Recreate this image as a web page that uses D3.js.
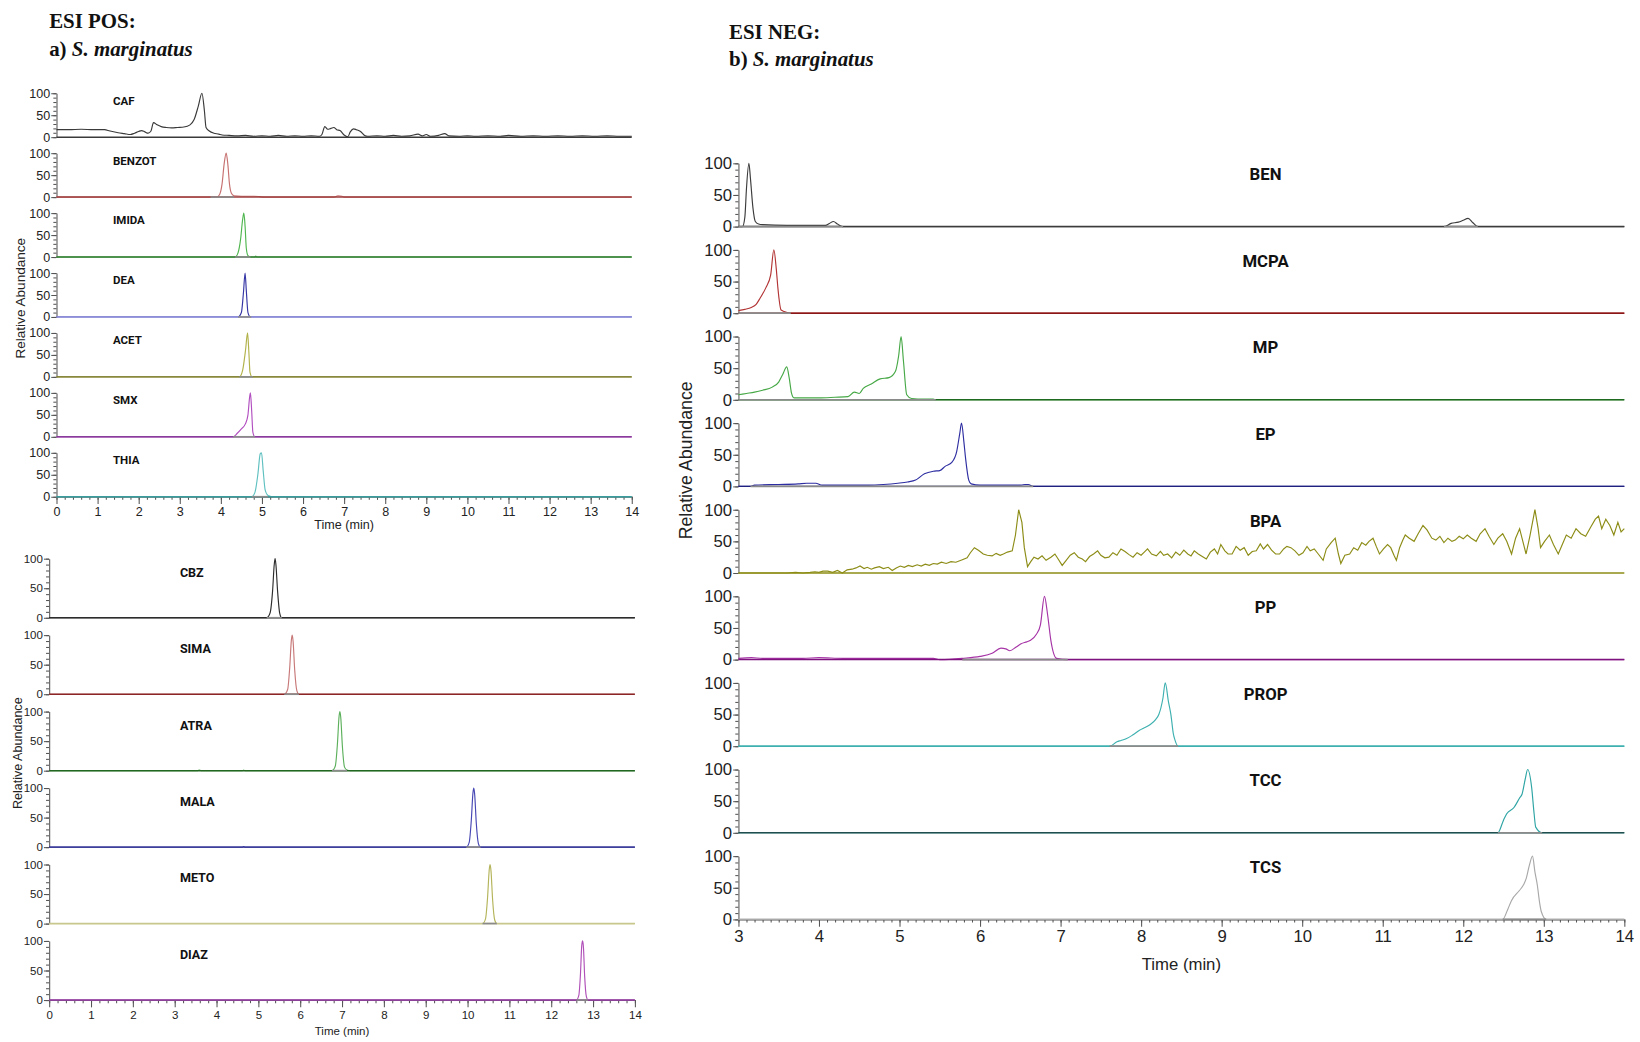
<!DOCTYPE html>
<html>
<head>
<meta charset="utf-8">
<script src="https://cdn.jsdelivr.net/npm/d3@7"></script>
<style>
  body { margin: 0; background: #fff; }
  svg { display: block; }
  .tk text { font-family: "Liberation Sans", Arial, sans-serif; fill: #222; }
  .tk line, .tk path { stroke: #555; }
</style>
</head>
<body>
<svg id="chart" width="1640" height="1042" viewBox="0 0 1568 996"></svg>
<script>
// ---- ESI POS, upper block (a) ----
const posTopNames = ["CAF", "BENZOT", "IMIDA", "DEA", "ACET", "SMX", "THIA"];
const caf = [[0,17],[0.3,17],[0.6,18],[0.9,17],[1.17,17],[1.3,14],[1.5,10],[1.65,8],[1.8,6],[1.9,9],[2.0,13],[2.07,15],[2.15,12],[2.23,9],[2.3,14],[2.36,33],[2.45,28],[2.55,24],[2.67,22],[2.8,21],[2.95,22],[3.1,23],[3.25,28],[3.35,40],[3.45,70],[3.54,100],[3.6,60],[3.64,22],[3.72,14],[3.83,9],[3.95,7],[4.03,5],[4.2,4],[4.4,3],[4.6,4],[4.8,2],[5.0,3],[5.2,2],[5.4,4],[5.6,2],[5.8,3],[6.0,2],[6.2,3],[6.4,2],[6.46,6],[6.53,24],[6.6,18],[6.68,20],[6.75,22],[6.82,17],[6.9,15],[7.0,5],[7.09,1],[7.15,12],[7.23,19],[7.3,17],[7.4,13],[7.5,4],[7.57,2],[7.8,3],[8.0,2],[8.2,4],[8.4,2],[8.6,3],[8.8,7],[8.9,3],[9.0,6],[9.1,2],[9.3,4],[9.45,8],[9.55,3],[9.8,2],[10.0,3],[10.2,2],[10.5,3],[10.8,2],[11.0,4],[11.3,2],[11.6,3],[11.9,2],[12.2,3],[12.5,2],[12.8,3],[13.1,2],[13.4,3],[13.7,2],[14,2]];
const benzot = [[0,0],[3.9,0],[3.97,6],[4.03,30],[4.08,75],[4.13,100],[4.17,75],[4.21,30],[4.26,8],[4.32,3],[4.5,2],[4.8,2],[4.95,1],[5.05,0],[6.75,0],[6.85,3],[6.95,2],[7.0,0],[14,0]];
const imida = [[0,0],[4.35,0],[4.42,10],[4.48,40],[4.53,85],[4.56,100],[4.59,70],[4.62,20],[4.66,3],[4.72,0],[4.82,0],[4.85,2],[4.88,0],[14,0]];
const dea = [[0,0],[4.42,0],[4.5,10],[4.55,55],[4.59,100],[4.62,60],[4.66,10],[4.72,0],[14,0]];
const acet = [[0,0],[4.45,0],[4.53,15],[4.6,60],[4.65,100],[4.68,60],[4.71,10],[4.76,0],[14,0]];
const smx = [[0,0],[4.3,0],[4.4,8],[4.5,18],[4.6,30],[4.66,50],[4.7,90],[4.72,100],[4.75,60],[4.78,10],[4.83,0],[14,0]];
const thia = [[0,0],[4.75,0],[4.83,10],[4.9,50],[4.96,98],[4.99,100],[5.03,60],[5.08,15],[5.15,3],[5.3,0],[14,0]];
const posTopWindows = [[], [[3.75,4.32]], [[4.35,4.72]], [[4.42,4.74]], [[4.45,4.78]], [[4.3,4.83]], [[4.75,5.15]]];
const posTopColors = ["#3a3a3a", "#c77070", "#4fb64f", "#3535a5", "#b2b24a", "#b24fc0", "#5fc0c0"];
const posTopBase = ["#3a3a3a", "#9c3c3c", "#2f7a2f", "#9a9ae0", "#74742c", "#8a3c9c", "#3a9c9c"];

// ---- ESI POS, lower block ----
const posBotNames = ["CBZ", "SIMA", "ATRA", "MALA", "METO", "DIAZ"];
const cbz = [[0,0],[5.2,0],[5.28,8],[5.34,45],[5.38,90],[5.4,100],[5.42,90],[5.46,45],[5.51,8],[5.56,0],[14,0]];
const sima = [[0,0],[5.62,0],[5.7,8],[5.75,45],[5.79,92],[5.81,100],[5.83,90],[5.87,40],[5.92,6],[5.97,0],[14,0]];
const atra = [[0,0],[3.55,0],[3.59,1],[3.63,0],[4.62,0],[4.65,1],[4.68,0],[6.76,0],[6.84,8],[6.89,45],[6.93,92],[6.95,100],[6.97,90],[7.01,40],[7.06,6],[7.12,1],[7.2,0],[14,0]];
const mala = [[0,0],[4.62,0],[4.65,1],[4.68,0],[9.97,0],[10.04,8],[10.09,45],[10.13,92],[10.15,100],[10.17,90],[10.21,40],[10.26,6],[10.31,0],[14,0]];
const meto = [[0,0],[10.36,0],[10.43,8],[10.48,45],[10.52,92],[10.54,100],[10.56,90],[10.6,40],[10.65,6],[10.7,0],[14,0]];
const diaz = [[0,0],[12.6,0],[12.66,8],[12.7,45],[12.73,92],[12.75,100],[12.77,90],[12.8,40],[12.84,6],[12.88,0],[14,0]];
const posBotWindows = [[[5.2,5.56]], [[5.62,5.97]], [[6.76,7.12]], [[9.97,10.31]], [[10.36,10.7]], [[12.6,12.88]]];
const posBotColors = ["#2c2c2c", "#c87878", "#5cb05c", "#4646b4", "#b4b45a", "#b050b8"];
const posBotBase = ["#2c2c2c", "#8c2626", "#226622", "#2c2c8c", "#c8c88e", "#8e3c9c"];

// ---- ESI NEG block (b) ----
const negNames = ["BEN", "MCPA", "MP", "EP", "BPA", "PP", "PROP", "TCC", "TCS"];
const ben = [[3.0,0],[3.05,0],[3.08,15],[3.1,60],[3.13,100],[3.15,75],[3.18,30],[3.21,8],[3.25,4],[3.3,3],[3.6,2],[3.9,2],[4.08,2],[4.13,5],[4.18,8],[4.23,4],[4.29,0],[11.76,0],[11.85,5],[11.94,7],[12.0,10],[12.06,13],[12.12,6],[12.18,0],[14,0]];
const mcpa = [[3.0,4],[3.08,6],[3.16,9],[3.22,14],[3.27,24],[3.34,40],[3.4,60],[3.44,100],[3.47,70],[3.49,40],[3.53,5],[3.61,1],[3.65,0],[14,0]];
const mp = [[3.0,8],[3.1,10],[3.2,12],[3.3,15],[3.42,20],[3.5,28],[3.55,40],[3.6,52],[3.63,35],[3.66,10],[3.69,3],[3.8,3],[4.0,3],[4.2,4],[4.36,5],[4.44,12],[4.5,10],[4.55,18],[4.65,25],[4.76,33],[4.87,35],[4.95,45],[4.99,70],[5.02,100],[5.05,60],[5.09,8],[5.15,2],[5.3,1],[5.42,1],[5.45,0],[14,0]];
const ep = [[3.0,0],[3.15,0],[3.2,2],[3.5,3],[3.74,4],[3.85,5],[3.96,5],[4.04,2],[4.3,2],[4.62,2],[4.8,3],[4.98,5],[5.1,7],[5.2,10],[5.31,20],[5.42,24],[5.5,25],[5.57,32],[5.65,38],[5.71,55],[5.75,85],[5.77,100],[5.8,70],[5.82,45],[5.86,10],[5.89,4],[6.0,2],[6.3,2],[6.51,2],[6.56,3],[6.6,3],[6.66,0],[14,0]];
const bpa = [[3.0,0],[3.3,0],[3.6,0],[3.71,1],[3.8,0],[3.89,1],[3.95,2],[4.0,1],[4.05,3],[4.11,3],[4.17,1],[4.23,4],[4.29,0],[4.35,5],[4.41,6],[4.46,8],[4.51,11],[4.56,7],[4.6,9],[4.65,6],[4.69,8],[4.75,10],[4.8,7],[4.86,9],[4.91,4],[4.96,8],[5.01,11],[5.06,9],[5.11,12],[5.16,10],[5.22,13],[5.27,11],[5.32,14],[5.37,12],[5.42,15],[5.47,14],[5.52,17],[5.58,15],[5.64,18],[5.7,17],[5.78,21],[5.84,24],[5.88,32],[5.93,40],[5.98,36],[6.04,30],[6.09,28],[6.15,27],[6.2,31],[6.25,28],[6.29,30],[6.34,33],[6.4,35],[6.44,60],[6.48,100],[6.52,80],[6.55,40],[6.59,10],[6.63,18],[6.67,25],[6.72,22],[6.77,27],[6.82,20],[6.88,25],[6.93,30],[6.97,22],[7.02,12],[7.07,20],[7.12,28],[7.17,32],[7.22,25],[7.27,22],[7.31,18],[7.36,26],[7.41,30],[7.46,35],[7.5,28],[7.55,24],[7.6,25],[7.65,32],[7.7,28],[7.75,38],[7.8,34],[7.85,29],[7.9,25],[7.95,32],[8.0,28],[8.04,33],[8.08,38],[8.13,30],[8.19,27],[8.24,34],[8.28,28],[8.33,30],[8.38,24],[8.43,33],[8.48,28],[8.53,36],[8.58,30],[8.62,27],[8.66,35],[8.71,30],[8.76,26],[8.81,22],[8.86,33],[8.91,38],[8.95,30],[8.99,45],[9.04,35],[9.08,30],[9.13,30],[9.18,42],[9.23,36],[9.28,40],[9.33,28],[9.38,34],[9.43,35],[9.48,46],[9.52,38],[9.57,45],[9.62,36],[9.67,30],[9.72,30],[9.77,38],[9.81,42],[9.86,40],[9.91,35],[9.96,28],[10.01,32],[10.06,42],[10.1,35],[10.15,38],[10.2,30],[10.26,20],[10.3,38],[10.36,48],[10.41,55],[10.45,30],[10.48,15],[10.53,28],[10.59,30],[10.64,40],[10.69,36],[10.74,48],[10.79,44],[10.83,50],[10.88,55],[10.92,42],[10.96,30],[11.01,38],[11.06,45],[11.1,40],[11.14,28],[11.17,20],[11.21,40],[11.25,52],[11.28,60],[11.33,55],[11.39,50],[11.44,62],[11.5,75],[11.55,68],[11.61,55],[11.66,52],[11.71,58],[11.76,48],[11.81,55],[11.86,50],[11.9,52],[11.95,58],[12.0,54],[12.05,60],[12.1,55],[12.16,50],[12.21,62],[12.27,70],[12.32,58],[12.38,45],[12.43,55],[12.49,62],[12.54,50],[12.6,30],[12.65,55],[12.7,70],[12.74,50],[12.78,30],[12.83,60],[12.89,100],[12.93,70],[12.96,40],[13.01,50],[13.07,60],[13.12,45],[13.18,30],[13.23,45],[13.28,60],[13.34,55],[13.4,70],[13.46,62],[13.52,58],[13.58,72],[13.64,85],[13.68,90],[13.72,70],[13.77,85],[13.82,75],[13.87,60],[13.92,80],[13.96,65],[14,70]];
const pp = [[3.0,2],[3.16,3],[3.3,2],[3.5,2],[3.8,2],[4.0,3],[4.3,2],[4.5,2],[4.8,2],[5.1,2],[5.42,2],[5.5,0],[5.78,2],[6.0,5],[6.15,10],[6.26,18],[6.32,17],[6.37,14],[6.45,20],[6.51,25],[6.58,28],[6.62,30],[6.7,40],[6.75,55],[6.8,100],[6.84,70],[6.88,30],[6.95,2],[7.09,0],[14,0]];
const prop = [[3.0,0],[7.61,0],[7.7,7],[7.75,9],[7.82,12],[7.9,18],[7.98,25],[8.04,29],[8.11,34],[8.18,42],[8.22,50],[8.27,75],[8.3,100],[8.34,70],[8.37,50],[8.4,20],[8.42,10],[8.46,0],[14,0]];
const tcc = [[3.0,0],[12.43,0],[12.5,20],[12.54,30],[12.63,40],[12.7,55],[12.73,61],[12.77,85],[12.8,100],[12.85,71],[12.88,30],[12.9,9],[12.98,0],[14,0]];
const tcs = [[3.0,0],[12.49,0],[12.55,15],[12.6,30],[12.7,46],[12.75,55],[12.78,64],[12.82,85],[12.86,100],[12.89,75],[12.92,54],[12.95,25],[12.97,12],[13.03,0],[14,0]];
const negWindows = [[[3.0,4.3],[11.76,12.18]], [[3.0,3.65]], [[3.0,5.45]], [[3.15,6.66]], [], [[5.78,7.09]], [[7.61,8.46]], [[12.43,12.98]], [[12.49,13.03]]];
const negColors = ["#3c3c3c", "#b23434", "#46a846", "#2e2ea2", "#8c8c16", "#a634a6", "#3eb0b0", "#2ea4a4", "#a8a8a8"];
const negBase = ["#3c3c3c", "#8a1616", "#1e6a1e", "#20207e", "#8c8c16", "#7e127e", "#3eb0b0", "#204e4e", "#a8a8a8"];

// traces drawn point to point (noisy scans)
const jagged = ["BPA"];

const svg = d3.select("#chart");

const groups = [
  { names: posTopNames, traces: [caf, benzot, imida, dea, acet, smx, thia], windows: posTopWindows,
    colors: posTopColors, base: posTopBase, domain: [0, 14], x0: 54, x1: 604, top: 89, step: 57.3, h: 42,
    minor: 0.2, yfs: 12, xfs: 12, lfs: 11, labelX: 108, labelAnchor: "start", labelDy: 8,
    yTitle: [20, 285], xTitleY: 506 },
  { names: posBotNames, traces: [cbz, sima, atra, mala, meto, diaz], windows: posBotWindows,
    colors: posBotColors, base: posBotBase, domain: [0, 14], x0: 47, x1: 607, top: 534, step: 73.1, h: 56.5,
    minor: 0.2, yfs: 11, xfs: 11, lfs: 12, labelX: 172, labelAnchor: "start", labelDy: 14,
    yTitle: [18, 720], xTitleY: 989 },
  { names: negNames, traces: [ben, mcpa, mp, ep, bpa, pp, prop, tcc, tcs], windows: negWindows,
    colors: negColors, base: negBase, domain: [3, 14], x0: 706, x1: 1553, top: 156, step: 82.8, h: 60.5,
    minor: 0.1, yfs: 16, xfs: 16, lfs: 16, labelX: 1210, labelAnchor: "middle", labelDy: 12,
    yTitle: [657, 440], xTitleY: 927 }
];

groups.forEach(g => {
  const x = d3.scaleLinear().domain(g.domain).range([g.x0, g.x1]);
  const n = g.names.length;
  g.names.forEach((name, i) => {
    const top = g.top + i * g.step;
    const y = d3.scaleLinear().domain([0, 100]).range([top + g.h, top]);
    const p = svg.append("g");

    // y axis: minor then major
    p.append("g").attr("class", "tk").attr("transform", `translate(${g.x0},0)`)
      .call(d3.axisLeft(y).tickValues(d3.range(0, 101, 10)).tickSize(3).tickSizeOuter(0).tickFormat(""));
    p.append("g").attr("class", "tk").attr("transform", `translate(${g.x0},0)`)
      .call(d3.axisLeft(y).tickValues([0, 50, 100]).tickSize(5).tickPadding(1))
      .call(a => a.select(".domain").remove())
      .selectAll("text").style("font-size", g.yfs + "px");

    // x axis only on the last panel
    if (i === n - 1) {
      const minorTicks = d3.range(Math.round((g.domain[1] - g.domain[0]) / g.minor) + 1)
        .map(k => g.domain[0] + k * g.minor);
      p.append("g").attr("class", "tk").attr("transform", `translate(0,${y(0)})`)
        .call(d3.axisBottom(x).tickValues(minorTicks).tickSize(3).tickSizeOuter(0).tickFormat(""));
      p.append("g").attr("class", "tk").attr("transform", `translate(0,${y(0)})`)
        .call(d3.axisBottom(x).tickValues(d3.range(g.domain[0], g.domain[1] + 1)).tickSize(7).tickPadding(3))
        .call(a => a.select(".domain").remove())
        .selectAll("text").style("font-size", g.xfs + "px");
    }

    const line = d3.line().x(d => x(d[0])).y(d => y(d[1]))
      .curve(jagged.includes(name) ? d3.curveLinear : d3.curveMonotoneX);
    p.append("path").datum(g.traces[i])
      .attr("fill", "none").attr("stroke", g.colors[i]).attr("stroke-width", 1.1)
      .attr("d", line);

    // coloured baseline over the whole run
    p.append("line").attr("x1", g.x0).attr("x2", g.x1).attr("y1", y(0)).attr("y2", y(0))
      .attr("stroke", g.base[i]).attr("stroke-width", 1.4);

    // integration baseline under the peaks
    g.windows[i].forEach(w => {
      p.append("line").attr("x1", x(w[0])).attr("x2", x(w[1])).attr("y1", y(0)).attr("y2", y(0))
        .attr("stroke", "#8a8a8a").attr("stroke-width", 1.6);
    });

    p.append("text").attr("x", g.labelX).attr("y", top + g.labelDy)
      .attr("text-anchor", g.labelAnchor).attr("dominant-baseline", "middle")
      .style("font-family", "Roboto, 'Liberation Sans', sans-serif").style("font-weight", 700)
      .style("font-size", g.lfs + "px").style("fill", "#111").text(name);
  });

  svg.append("text").attr("x", (g.x0 + g.x1) / 2).attr("y", g.xTitleY)
    .attr("text-anchor", "middle")
    .style("font-family", "'Liberation Sans', Arial, sans-serif").style("font-size", g.xfs + "px")
    .style("fill", "#222").text("Time (min)");
  svg.append("text").attr("transform", `translate(${g.yTitle[0]},${g.yTitle[1]}) rotate(-90)`)
    .attr("text-anchor", "middle").attr("dominant-baseline", "middle")
    .style("font-family", "'Liberation Sans', Arial, sans-serif").style("font-size", (g.yfs + 1) + "px")
    .style("fill", "#222").text("Relative Abundance");
});

// panel headings
const headings = [
  { x: 47, y: 27, l1: "ESI POS:", tag: "a) ", y2: 53 },
  { x: 697, y: 37, l1: "ESI NEG:", tag: "b) ", y2: 63 }
];
headings.forEach(h => {
  const t = svg.append("g").style("font-family", "'Liberation Serif', 'Times New Roman', serif")
    .style("font-size", "20px").style("font-weight", 700).style("fill", "#111");
  t.append("text").attr("x", h.x).attr("y", h.y).text(h.l1);
  const t2 = t.append("text").attr("x", h.x).attr("y", h.y2);
  t2.append("tspan").text(h.tag);
  t2.append("tspan").style("font-style", "italic").text("S. marginatus");
});
</script>
</body>
</html>
